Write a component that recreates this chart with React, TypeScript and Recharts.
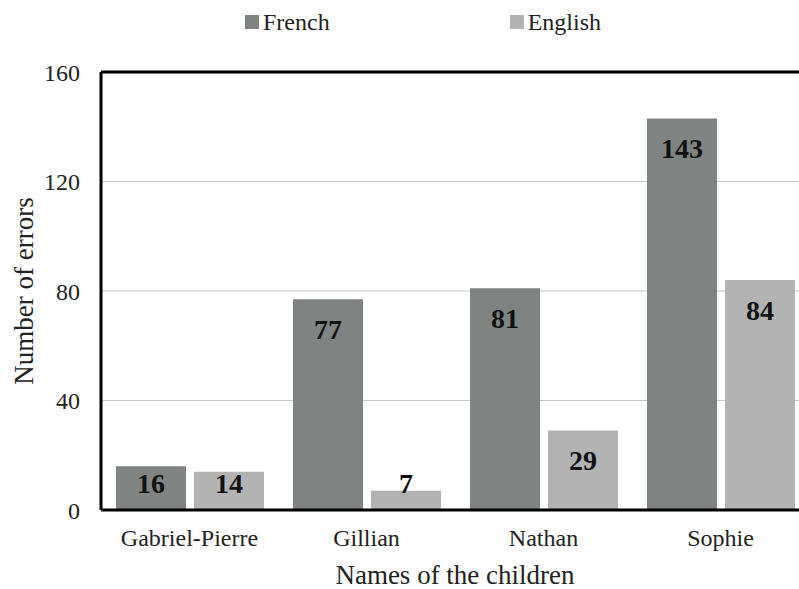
import React from 'react';
import { BarChart, Bar, XAxis, YAxis, CartesianGrid, Legend, ReferenceLine, LabelList } from 'recharts';

const children = ['Gabriel-Pierre', 'Gillian', 'Nathan', 'Sophie'];
const seriesNames = ['French', 'English'];
const french = [16, 77, 81, 143];
const english = [14, 7, 29, 84];
const yTicks = [0, 40, 80, 120, 160];

const FRENCH_COLOR = '#7f8381';
const ENGLISH_COLOR = '#b3b3b3';
const FONT = "'Liberation Serif', 'DejaVu Serif', serif";

const data = children.map((name, i) => ({ name, French: french[i], English: english[i] }));

// value labels sit inside the top of the bar, or just above the floor for short bars
const renderValue = (props: any) => {
    const { x, y, width, height, value } = props;
    const cy = Math.min(y + 30, y + height - 27);
    return (
        <text
            x={x + width / 2}
            y={cy}
            textAnchor="middle"
            dominantBaseline="central"
            style={{ fontFamily: FONT }}
            fontWeight="bold"
            fontSize={28}
            fill="#111"
        >
            {value}
        </text>
    );
};

const LegendContent = ({ payload }: any) => {
    const items = [...(payload || [])].sort((a: any, b: any) => seriesNames.indexOf(a.value) - seriesNames.indexOf(b.value));
    return (
        <div style={{ position: 'absolute', left: 245, top: 8, whiteSpace: 'nowrap', fontFamily: FONT, fontSize: 24, color: '#222' }}>
            {items.map((entry: any, i: number) => (
                <span key={entry.value} style={{ display: 'inline-flex', alignItems: 'center', marginRight: i === 0 ? 180 : 0 }}>
                    <span style={{ display: 'inline-block', width: 14, height: 14, background: entry.color, marginRight: 4 }} />
                    {entry.value}
                </span>
            ))}
        </div>
    );
};

const tickStyle = { fill: '#222', fontSize: 24, fontFamily: FONT, style: { fontFamily: FONT } };

export default function App() {
    return (
        <div style={{ position: 'absolute', left: 0, top: 0, width: 799, height: 589, overflow: 'hidden', background: '#fff', fontFamily: FONT }}>
            <BarChart
                width={830}
                height={589}
                data={data}
                margin={{ top: 72, right: 21, bottom: 0, left: 0 }}
                barGap={8}
                style={{ fontFamily: FONT }}
            >
                <CartesianGrid horizontal vertical={false} stroke="#c8c8c8" strokeWidth={1} />
                <XAxis
                    dataKey="name"
                    height={79}
                    axisLine={{ stroke: '#000', strokeWidth: 3 }}
                    tickLine={false}
                    tickSize={0}
                    tickMargin={19}
                    tick={tickStyle}
                    label={{ value: 'Names of the children', position: 'insideBottom', offset: 5, fill: '#222', fontSize: 27, fontFamily: FONT, style: { fontFamily: FONT } }}
                />
                <YAxis
                    width={101}
                    domain={[0, 160]}
                    ticks={yTicks}
                    axisLine={{ stroke: '#000', strokeWidth: 3 }}
                    tickLine={false}
                    tickSize={0}
                    tickMargin={21}
                    tick={tickStyle}
                    label={{ value: 'Number of errors', angle: -90, position: 'insideLeft', offset: 23, fill: '#222', fontSize: 27, fontFamily: FONT, style: { textAnchor: 'middle', fontFamily: FONT } }}
                />
                <ReferenceLine y={160} stroke="#000" strokeWidth={3} />
                <Legend verticalAlign="top" content={<LegendContent />} wrapperStyle={{ top: 0, left: 0, width: 799 }} />
                <Bar dataKey="French" fill={FRENCH_COLOR} barSize={70} isAnimationActive={false}>
                    <LabelList dataKey="French" content={renderValue} />
                </Bar>
                <Bar dataKey="English" fill={ENGLISH_COLOR} barSize={70} isAnimationActive={false}>
                    <LabelList dataKey="English" content={renderValue} />
                </Bar>
            </BarChart>
        </div>
    );
}
